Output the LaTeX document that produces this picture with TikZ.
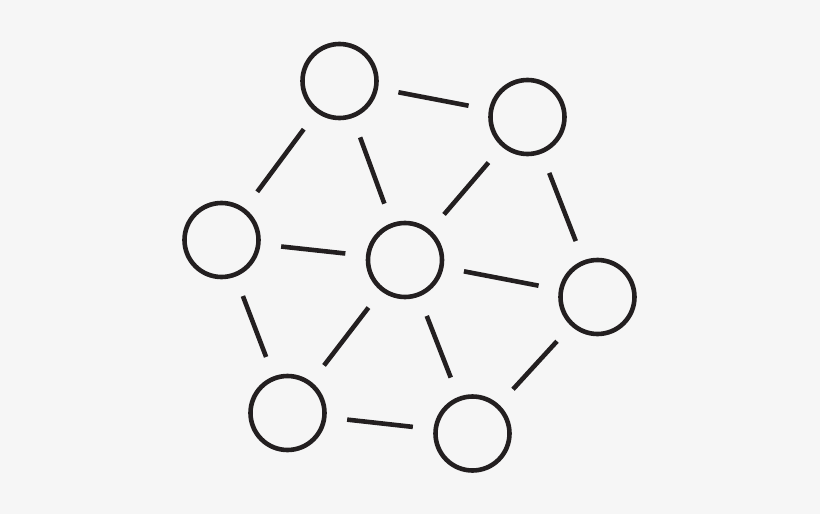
\documentclass[tikz,border=0pt]{standalone}
\usepackage{tikz}

\definecolor{paper}{HTML}{F6F6F6}
\definecolor{ink}{HTML}{231F20}

\tikzset{
  vertex/.style={circle, draw=ink, line width=4.6pt, minimum size=74pt, inner sep=0pt, outer sep=0pt},
  link/.style={draw=ink, line width=4.6pt, shorten >=23pt, shorten <=23pt}
}

\begin{document}
\begin{tikzpicture}[x=1pt, y=-1pt]
  % background sheet
  \fill[paper] (0,0) rectangle (820,514);
  \useasboundingbox (0,0) rectangle (820,514);

  % draw the circles
  \node[vertex] (top)   at (339.5,81)  {};
  \node[vertex] (topr)  at (527.5,117) {};
  \node[vertex] (left)  at (221.5,240) {};
  \node[vertex] (mid)   at (405,260)   {};
  \node[vertex] (right) at (597.5,297) {};
  \node[vertex] (botl)  at (287.5,413) {};
  \node[vertex] (bot)   at (472.5,433.5) {};

  % draw the links with gaps
  \foreach \a/\b in {top/topr, top/left, top/mid, topr/mid, topr/right,
                     left/mid, mid/right, left/botl, mid/botl, mid/bot,
                     right/bot, botl/bot}
    \draw[link] (\a) -- (\b);
\end{tikzpicture}
\end{document}
